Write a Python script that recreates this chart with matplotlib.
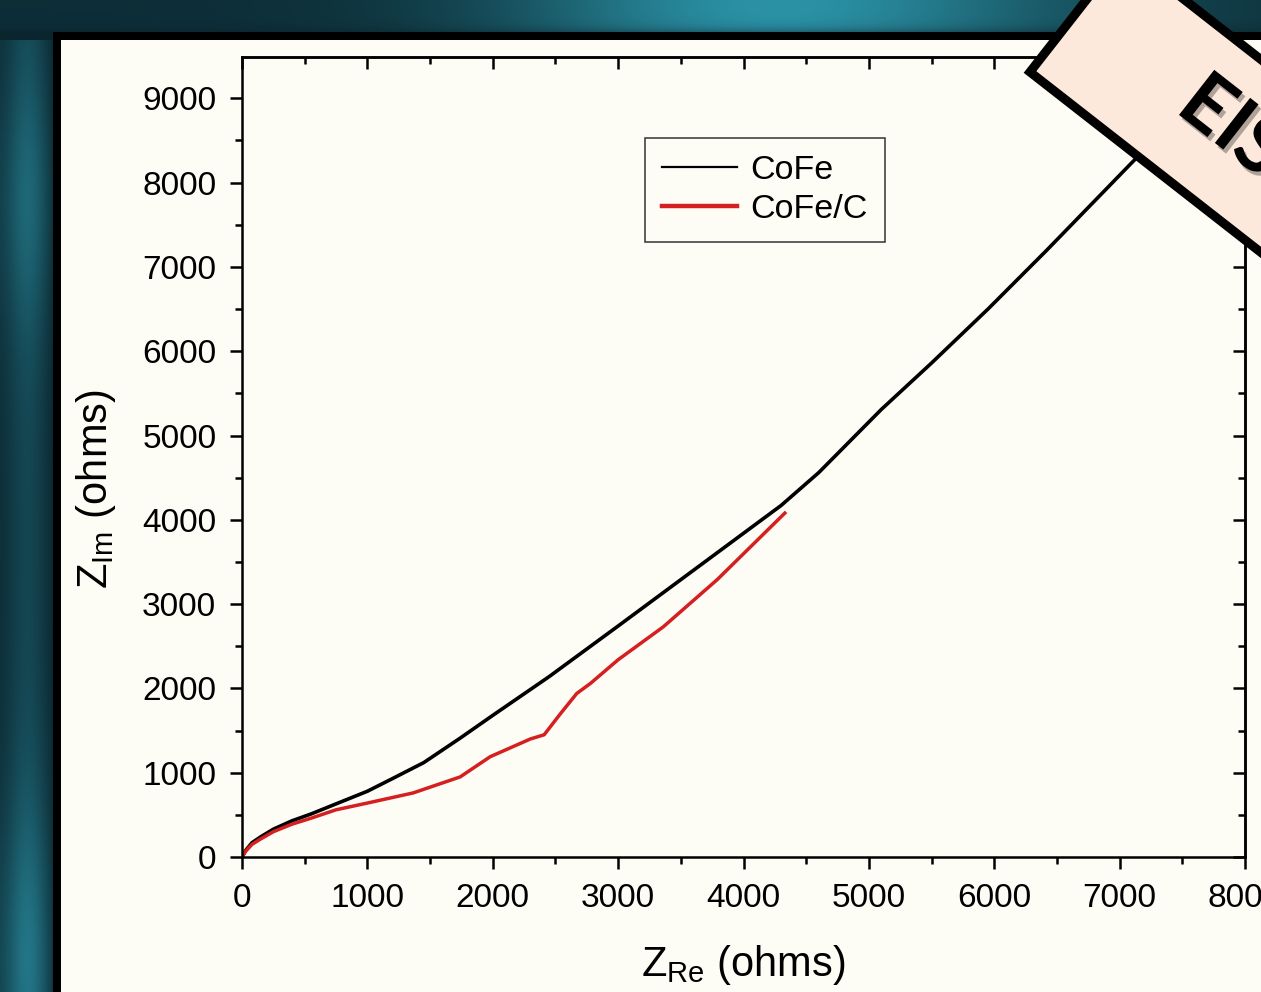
import numpy as np
import matplotlib
matplotlib.use('Agg')
import matplotlib.pyplot as plt
from matplotlib.patches import Rectangle, Polygon
from matplotlib.lines import Line2D
from matplotlib.ticker import MultipleLocator
import matplotlib.patheffects as pe

plt.rcParams['font.family'] = ['Liberation Sans', 'DejaVu Sans']
plt.rcParams['mathtext.default'] = 'regular'

# -----------------------------
# data
# -----------------------------
cofe_x = [0, 30, 80, 150, 250, 400, 550, 750, 1000, 1200, 1450, 1740, 2000,
          2450, 3000, 3500, 4000, 4300, 4600, 5100, 5500, 5950, 6420, 7080, 7600]
cofe_y = [0, 80, 170, 240, 330, 430, 510, 630, 780, 930, 1120, 1410, 1680,
          2140, 2740, 3290, 3840, 4170, 4560, 5310, 5860, 6500, 7200, 8210, 9000]

cofec_x = [0, 30, 80, 150, 250, 400, 550, 750, 1000, 1365, 1740, 1980, 2300, 2410,
           2540, 2670, 2780, 3000, 3360, 3790, 4330]
cofec_y = [0, 70, 150, 215, 300, 390, 460, 560, 640, 760, 950, 1190, 1400, 1450,
           1700, 1940, 2060, 2340, 2730, 3290, 4080]

series_labels = ['CoFe', 'CoFe/C']
x_ticks = [0, 1000, 2000, 3000, 4000, 5000, 6000, 7000, 8000]
y_ticks = [0, 1000, 2000, 3000, 4000, 5000, 6000, 7000, 8000, 9000]

# -----------------------------
# figure + background
# -----------------------------
W, H = 1261, 992
fig = plt.figure(figsize=(W / 100, H / 100), dpi=100)

yy, xx = np.mgrid[0:H, 0:W].astype(float)
# top strip: glow around x~760
t_top = 0.15 + 0.75 * np.exp(-((xx - 760) / 260) ** 2) + 0.15 * (xx > 400) * np.exp(-((xx - 1000) / 300) ** 2)
t_top = t_top * (1 - 0.45 * np.exp(-(32 - yy).clip(0) / 5))
# left strip: vertical glossy bar
prof = np.exp(-((xx - 27) / 20) ** 2)
t_left = (0.3 + 0.25 * np.exp(-((yy - 200) / 130) ** 2) + 0.35 * np.exp(-((yy - 960) / 160) ** 2)) * (0.45 + 0.7 * prof)
t_left = t_left * (1 - 0.5 * np.exp(-(53 - xx).clip(0) / 5))
t = np.where(yy < 40, t_top, t_left)
t = np.clip(t, 0, 1)
dark = np.array([0.03, 0.11, 0.14])
bright = np.array([0.17, 0.58, 0.66])
img = dark + (bright - dark) * t[..., None]

bg = fig.add_axes([0, 0, 1, 1], zorder=0)
bg.imshow(img, extent=(0, W, H, 0), aspect='auto', interpolation='bilinear')
bg.add_patch(Rectangle((53, 32), 1400, 1200, facecolor='black', edgecolor='none'))
bg.add_patch(Rectangle((61, 40), 1400, 1200, facecolor='#FDFDF6', edgecolor='none'))
bg.set_xlim(0, W)
bg.set_ylim(H, 0)
bg.axis('off')

# -----------------------------
# main plot
# -----------------------------
ax = fig.add_axes([242 / W, 1 - 857 / H, (1245 - 242) / W, (857 - 57) / H], zorder=2)
ax.patch.set_alpha(0)

ax.plot(cofe_x, cofe_y, color='black', lw=2.6, solid_joinstyle='round')
ax.plot(cofec_x, cofec_y, color='#D42020', lw=2.5, solid_joinstyle='round')

ax.set_xlim(0, 8000)
ax.set_ylim(0, 9490)
ax.set_xticks(x_ticks)
ax.set_yticks(y_ticks)
ax.xaxis.set_minor_locator(MultipleLocator(500))
ax.yaxis.set_minor_locator(MultipleLocator(500))
ax.tick_params(which='both', direction='out', width=1.8, labelsize=24, pad=10)
ax.tick_params(which='major', length=8.5)
ax.tick_params(which='minor', length=5)
for s in ax.spines.values():
    s.set_linewidth(1.8)

# inward ticks on top / right
top = ax.secondary_xaxis('top')
top.set_xticks(x_ticks)
top.xaxis.set_minor_locator(MultipleLocator(500))
top.tick_params(which='both', direction='in', width=1.8, labeltop=False)
top.tick_params(which='major', length=8.5)
top.tick_params(which='minor', length=5)
right = ax.secondary_yaxis('right')
right.set_yticks(y_ticks)
right.yaxis.set_minor_locator(MultipleLocator(500))
right.tick_params(which='both', direction='in', width=1.8, labelright=False)
right.tick_params(which='major', length=8.5)
right.tick_params(which='minor', length=5)
for s in list(top.spines.values()) + list(right.spines.values()):
    s.set_linewidth(1.8)

ax.set_xlabel(r'Z$_{Re}$ (ohms)', fontsize=30)
ax.set_ylabel(r'Z$_{Im}$ (ohms)', fontsize=30)
ax.xaxis.set_label_coords(0.5, -0.108)
ax.yaxis.set_label_coords(-0.124, 0.46)

handles = [Line2D([], [], color='black', lw=1.6), Line2D([], [], color='#D42020', lw=3.2)]
leg = ax.legend(handles, series_labels, loc='upper left', bbox_to_anchor=(0.402, 0.899),
                borderaxespad=0, fontsize=24.5, handlelength=2.2, handletextpad=0.4,
                labelspacing=0.25, borderpad=0.5, fancybox=False, framealpha=1,
                facecolor='#FDFDF6', edgecolor='#333333')
leg.get_frame().set_linewidth(1.1)

# -----------------------------
# "EIS" tag in the corner
# -----------------------------
ov = fig.add_axes([0, 0, 1, 1], zorder=5)
ov.patch.set_alpha(0)
ov.set_xlim(0, W)
ov.set_ylim(H, 0)
ov.axis('off')

ang = np.deg2rad(38)
u = np.array([np.cos(ang), np.sin(ang)])
n = np.array([np.sin(ang), -np.cos(ang)])
p0 = np.array([1030.0, 72.0])
L, Wd = 500, 152
corners = [p0, p0 + L * u, p0 + L * u + Wd * n, p0 + Wd * n]
tag = Polygon(corners, closed=True, facecolor='#FDE9DC', edgecolor='black', lw=6.5,
              joinstyle='miter')
tag.set_path_effects([pe.SimplePatchShadow(offset=(3, -4), alpha=0.35), pe.Normal()])
ov.add_patch(tag)
ov.text(1174, 111, 'EIS', fontsize=57, fontweight='bold', family=['Lato', 'DejaVu Sans'],
        rotation=-38, rotation_mode='anchor', ha='left', va='baseline', color='black',
        path_effects=[pe.withSimplePatchShadow(offset=(2, -3), alpha=0.3)])

fig.savefig('out.png', dpi=100)
